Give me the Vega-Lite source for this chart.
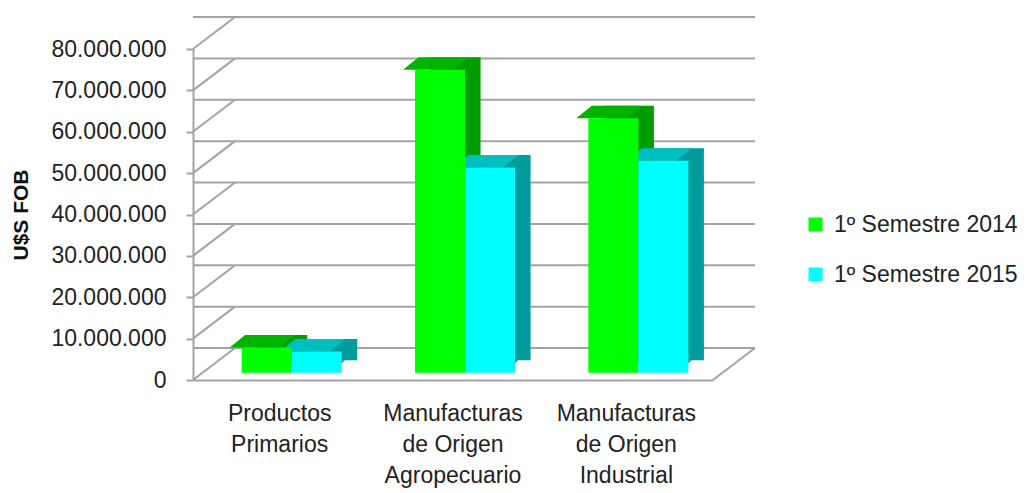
{
  "$schema": "https://vega.github.io/schema/vega-lite/v6.json",
  "width": 520,
  "height": 331,
  "autosize": "none",
  "padding": {"left": 193, "top": 49, "right": 314, "bottom": 113},
  "background": "white",
  "config": {
    "view": {"stroke": null},
    "locale": {"number": {"decimal": ",", "thousands": ".", "grouping": [3], "currency": ["$", ""]}},
    "font": "Liberation Sans"
  },
  "datasets": {
    "bars": [
      {"category": "Productos Primarios", "series": "1º Semestre 2014", "value": 6100000},
      {"category": "Productos Primarios", "series": "1º Semestre 2015", "value": 5100000},
      {"category": "Manufacturas de Origen Agropecuario", "series": "1º Semestre 2014", "value": 73200000},
      {"category": "Manufacturas de Origen Agropecuario", "series": "1º Semestre 2015", "value": 49600000},
      {"category": "Manufacturas de Origen Industrial", "series": "1º Semestre 2014", "value": 61500000},
      {"category": "Manufacturas de Origen Industrial", "series": "1º Semestre 2015", "value": 51200000}
    ],
    "grid": [
      {"v": 0}, {"v": 10000000}, {"v": 20000000}, {"v": 30000000}, {"v": 40000000},
      {"v": 50000000}, {"v": 60000000}, {"v": 70000000}, {"v": 80000000}
    ]
  },
  "resolve": {"scale": {"x": "independent"}},
  "layer": [
    {
      "data": {"name": "grid"},
      "layer": [
        {
          "mark": {"type": "rule", "color": "#a3a3a3", "strokeWidth": 2, "xOffset": 42, "yOffset": -32},
          "encoding": {
            "y": {"field": "v", "type": "quantitative", "scale": {"domain": [0, 80000000], "nice": false}}
          }
        },
        {
          "mark": {"type": "rule", "color": "#a3a3a3", "strokeWidth": 2, "x2Offset": 42, "y2Offset": -32},
          "encoding": {
            "x": {"datum": 0, "type": "quantitative", "scale": {"domain": [0, 1]}, "axis": null},
            "x2": {"datum": 0},
            "y": {"field": "v", "type": "quantitative"},
            "y2": {"field": "v"}
          }
        },
        {
          "transform": [{"filter": "datum.v == 0"}],
          "mark": {"type": "rule", "color": "#a3a3a3", "strokeWidth": 2, "x2Offset": 42, "y2Offset": -32},
          "encoding": {
            "x": {"datum": 1, "type": "quantitative", "scale": {"domain": [0, 1]}, "axis": null},
            "x2": {"datum": 1},
            "y": {"field": "v", "type": "quantitative"},
            "y2": {"field": "v"}
          }
        }
      ]
    },
    {
      "data": {"name": "bars"},
      "resolve": {"scale": {"x": "independent"}},
      "encoding": {
        "xOffset": {"field": "series", "type": "nominal", "sort": null}
      },
      "layer": [
        {
          "mark": {"type": "bar", "yOffset": -19.8},
          "encoding": {
            "x": {"field": "category", "type": "nominal", "sort": null, "scale": {"paddingInner": 0.423, "paddingOuter": 0.2115, "align": 0.876}, "axis": null},
            "y": {"field": "value", "type": "quantitative"},
            "color": {"condition": {"test": "datum.series == '1º Semestre 2014'", "value": "#009c00"}, "value": "#009c9c"}
          }
        },
        {
          "mark": {"type": "point", "filled": true, "opacity": 1, "strokeWidth": 0, "size": 2500, "shape": "M 1 0 L 1.62 -0.5 L 1 -0.5 Z", "xOffset": 12, "yOffset": -7.3},
          "encoding": {
            "x": {"field": "category", "type": "nominal", "sort": null, "scale": {"paddingInner": 0.423, "paddingOuter": 0.2115}, "axis": null},
            "y": {"datum": 0, "type": "quantitative"},
            "color": {"condition": {"test": "datum.series == '1º Semestre 2014'", "value": "#009c00"}, "value": "#009c9c"}
          }
        },
        {
          "mark": {"type": "point", "filled": true, "opacity": 1, "strokeWidth": 0, "size": 2500, "shape": "M -1 0 L 1 0 L 1.62 -0.5 L -0.38 -0.5 Z", "xOffset": 12, "yOffset": -7.3},
          "encoding": {
            "x": {
              "field": "category", "type": "nominal", "sort": null,
              "scale": {"paddingInner": 0.423, "paddingOuter": 0.2115},
              "axis": {
                "title": null, "ticks": false, "labelAngle": 0,
                "domainColor": "#a3a3a3", "domainWidth": 2,
                "labelFont": "Liberation Sans", "labelFontSize": 23, "labelColor": "#222222",
                "labelPadding": 22, "labelBaseline": "top", "labelLineHeight": 31,
                "labelExpr": "datum.label == 'Productos Primarios' ? ['Productos', 'Primarios'] : datum.label == 'Manufacturas de Origen Agropecuario' ? ['Manufacturas', 'de Origen', 'Agropecuario'] : ['Manufacturas', 'de Origen', 'Industrial']"
              }
            },
            "y": {"field": "value", "type": "quantitative"},
            "color": {"condition": {"test": "datum.series == '1º Semestre 2014'", "value": "#00b400"}, "value": "#00bfbf"}
          }
        },
        {
          "mark": {"type": "bar", "yOffset": -7.3},
          "encoding": {
            "x": {"field": "category", "type": "nominal", "sort": null, "scale": {"paddingInner": 0.423, "paddingOuter": 0.2115, "align": 0.664}, "axis": null},
            "y": {
              "field": "value", "type": "quantitative",
              "axis": {
                "title": "U$S FOB", "titleFont": "Liberation Sans", "titleFontSize": 21, "titleFontWeight": "bold", "titleColor": "#111111", "titlePadding": 19,
                "format": ",.0f", "values": [0, 10000000, 20000000, 30000000, 40000000, 50000000, 60000000, 70000000, 80000000],
                "grid": false, "domainColor": "#a3a3a3", "domainWidth": 2,
                "tickColor": "#a3a3a3", "tickWidth": 2, "tickSize": 7,
                "labelFont": "Liberation Sans", "labelFontSize": 23, "labelColor": "#222222", "labelPadding": 20
              }
            },
            "color": {
              "field": "series", "type": "nominal",
              "scale": {"domain": ["1º Semestre 2014", "1º Semestre 2015"], "range": ["#00ff00", "#00ffff"]},
              "legend": {
                "title": null, "orient": "none", "legendX": 611, "legendY": 164, "padding": 0,
                "symbolType": "square", "symbolSize": 196, "symbolStrokeWidth": 0, "symbolOpacity": 1,
                "labelFont": "Liberation Sans", "labelFontSize": 23, "labelColor": "#222222", "labelLimit": 300,
                "labelOffset": 7, "rowPadding": 26
              }
            }
          }
        }
      ]
    }
  ]
}
